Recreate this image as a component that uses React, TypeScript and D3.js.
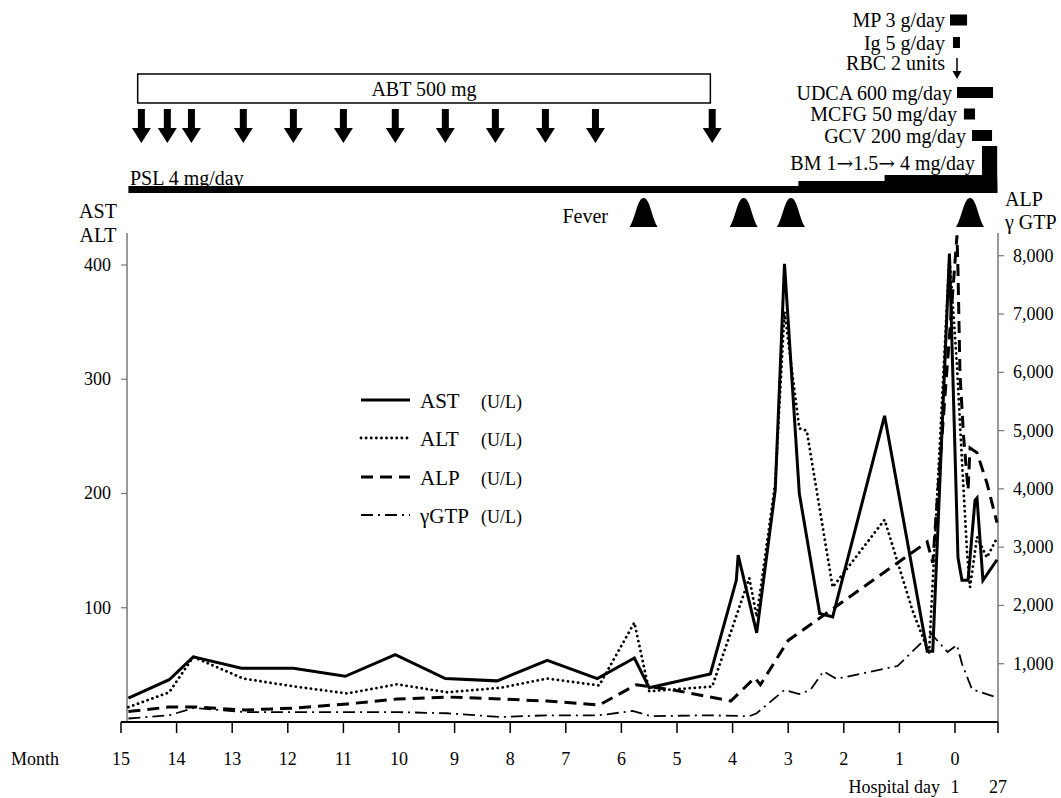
import React from "react";
import * as d3 from "d3";

// ---- Data (time t = days relative to hospital day 1; negative = before admission) ----
const monthTicks = [15, 14, 13, 12, 11, 10, 9, 8, 7, 6, 5, 4, 3, 2, 1, 0];
const leftTicks = [100, 200, 300, 400];
const rightTicks = [1000, 2000, 3000, 4000, 5000, 6000, 7000, 8000];

const astData: [number, number][] = [
  [-446, 21], [-424, 37], [-411, 57], [-385, 47], [-357, 47], [-329, 40], [-302, 59], [-275, 38],
  [-247, 36], [-220, 54], [-193, 38], [-173, 56], [-165, 30], [-132, 42], [-118, 124], [-117, 146],
  [-107, 78], [-97, 203], [-92, 401], [-84, 200], [-73, 95], [-66, 92], [-38, 268], [-15, 62],
  [-12, 62], [-3, 410], [1.8, 144], [4.2, 124], [7.9, 124], [12.1, 194], [13.3, 196], [16.9, 124],
  [25.4, 142],
];
const altData: [number, number][] = [
  [-446, 13], [-424, 26], [-411, 57], [-384, 38], [-356, 31], [-328, 25], [-301, 33], [-274, 26],
  [-245, 30], [-220, 38], [-192, 32], [-173, 87], [-165, 27], [-131, 31], [-111, 126], [-107, 92],
  [-97, 209], [-92, 359], [-84, 257], [-80, 255], [-66, 118], [-38, 177], [-23, 98], [-14, 60],
  [-3, 408], [1.2, 312], [4.2, 229], [7.3, 148], [9.1, 118], [13.3, 162], [19.3, 144], [25.4, 161],
];
const alpData: [number, number][] = [
  [-446, 180], [-424, 257], [-409, 257], [-383, 206], [-356, 240], [-328, 309], [-301, 394],
  [-274, 429], [-245, 394], [-220, 360], [-192, 291], [-172, 640], [-149, 531], [-121, 360],
  [-108, 760], [-105, 640], [-90, 1400], [-15, 3090], [-12, 2730], [-10, 3630], [1.2, 8350],
  [1.8, 7750], [3.0, 5980], [5.2, 4890], [7.9, 3980], [9.1, 4700], [13.3, 4620], [19.3, 4100],
  [25.4, 3420],
];
const ggtData: [number, number][] = [
  [-446, 60], [-424, 115], [-411, 240], [-383, 170], [-356, 170], [-328, 170], [-301, 170],
  [-274, 150], [-245, 85], [-220, 115], [-192, 115], [-174, 190], [-164, 100], [-133, 115],
  [-111, 100], [-107, 150], [-92, 550], [-84, 480], [-78, 550], [-71, 870], [-64, 740],
  [-31, 960], [-13, 1520], [-4, 1200], [1.2, 1320], [4.2, 1000], [10.3, 560], [25.4, 420],
];

const abtDoses = [-439, -425, -412, -384, -357, -330, -302, -275, -248, -221, -194, -131];
const abtPeriod = [-441, -132];
const feverDays = [-168, -114, -88.5, 9.1];
const pslPeriod = [-446, 25.5];
const bmSteps = [-84.5, -38, 16.3];

const treatLabels = ["MP 3 g/day", "Ig 5 g/day", "UDCA 600 mg/day", "MCFG 50 mg/day", "GCV 200 mg/day"];
const treatStart = [-2.7, -1.1, 1.2, 5.4, 10.3];
const treatEnd = [7.3, 3.0, 23, 12.1, 22.4];
const rbcDay = 1.2;

const legendNames = ["AST", "ALT", "ALP", "γGTP"];

const FONT = "'Liberation Serif', 'Times New Roman', serif";

export default function App() {
  const W = 1061, H = 798;
  const x = d3.scaleLinear().domain([-450, 0, 26]).range([121, 955, 998]);
  const yL = d3.scaleLinear().domain([0, 428]).range([722, 233]);
  const yR = d3.scaleLinear().domain([0, 8390]).range([722, 233]);

  const lineL = d3.line<[number, number]>().x((d) => x(d[0])).y((d) => yL(d[1]));
  const lineR = d3.line<[number, number]>().x((d) => x(d[0])).y((d) => yR(d[1]));

  const axL = 127, axR = 998, axB = 722;

  const styles = [
    { w: 3, dash: "none", cap: "butt" },
    { w: 2.8, dash: "0.1 5", cap: "round" },
    { w: 3, dash: "12 7", cap: "butt" },
    { w: 1.8, dash: "12 5 2 5", cap: "butt" },
  ];

  const legendY = [400, 438, 477, 515];

  const feverPath = (cx: number) => {
    const base = 227, top = 198, hw = 14;
    return `M${cx - hw},${base} C${cx - hw * 0.55},${base - 10} ${cx - hw * 0.45},${top} ${cx},${top} C${cx + hw * 0.45},${top} ${cx + hw * 0.55},${base - 10} ${cx + hw},${base} Z`;
  };

  const treatY = [20, 42.5, 92.5, 114, 135.5];
  const treatTextEnd = [945, 945, 952, 957, 966];
  const arrowFont = "'DejaVu Serif', serif";

  return (
    <svg width={W} height={H} style={{ position: "absolute", left: 0, top: 0, background: "#fff" }} fontFamily={FONT}>
      <rect x={0} y={0} width={W} height={H} fill="#fff" />

      {/* ABT box */}
      <rect x={x(abtPeriod[0])} y={74} width={x(abtPeriod[1]) - x(abtPeriod[0])} height={29} fill="#fff" stroke="#000" strokeWidth={1.5} />
      <text x={(x(abtPeriod[0]) + x(abtPeriod[1])) / 2} y={89} fontSize={20} textAnchor="middle" dominantBaseline="central">ABT 500 mg</text>

      {/* ABT dose arrows */}
      {abtDoses.map((t, i) => {
        const cx = x(t);
        return (
          <path key={i} d={`M${cx - 3.5},109 L${cx + 3.5},109 L${cx + 3.5},128 L${cx + 9.5},128 L${cx},143 L${cx - 9.5},128 L${cx - 3.5},128 Z`} fill="#000" />
        );
      })}

      {/* PSL + BM */}
      <text x={130} y={178} fontSize={20} dominantBaseline="central">PSL 4 mg/day</text>
      <rect x={x(pslPeriod[0])} y={186} width={x(pslPeriod[1]) - x(pslPeriod[0])} height={7} fill="#000" />
      {bmSteps.map((t, i) => {
        const tops = [181, 175, 146];
        return <rect key={i} x={x(t)} y={tops[i]} width={x(pslPeriod[1]) - x(t)} height={193 - tops[i]} fill="#000" />;
      })}
      <text x={975} y={163} fontSize={20} textAnchor="end" dominantBaseline="central">
        BM 1<tspan fontFamily={arrowFont} fontSize={20}>→</tspan>1.5<tspan fontFamily={arrowFont} fontSize={20}>→</tspan> 4 mg/day
      </text>

      {/* treatments */}
      {treatLabels.map((lab, i) => (
        <g key={lab}>
          <text x={treatTextEnd[i]} y={treatY[i]} fontSize={20} textAnchor="end" dominantBaseline="central">{lab}</text>
          <rect x={x(treatStart[i])} y={treatY[i] - 5.5} width={x(treatEnd[i]) - x(treatStart[i])} height={11} fill="#000" />
        </g>
      ))}
      <text x={945} y={63} fontSize={20} textAnchor="end" dominantBaseline="central">RBC 2 units</text>
      <line x1={x(rbcDay)} x2={x(rbcDay)} y1={58} y2={72} stroke="#000" strokeWidth={1.5} />
      <path d={`M${x(rbcDay) - 4.5},71 L${x(rbcDay) + 4.5},71 L${x(rbcDay)},79 Z`} fill="#000" />

      {/* Fever */}
      <text x={608} y={216} fontSize={20} textAnchor="end" dominantBaseline="central">Fever</text>
      {feverDays.map((t, i) => (
        <path key={i} d={feverPath(x(t))} fill="#000" />
      ))}

      {/* axis titles */}
      <text x={98} y={211} fontSize={20} textAnchor="middle" dominantBaseline="central">AST</text>
      <text x={98} y={235} fontSize={20} textAnchor="middle" dominantBaseline="central">ALT</text>
      <text x={1005} y={199} fontSize={20} dominantBaseline="central">ALP</text>
      <text x={1005} y={222} fontSize={20} dominantBaseline="central">γ GTP</text>

      {/* left axis */}
      <line x1={axL} x2={axL} y1={233} y2={axB} stroke="#777" strokeWidth={1.5} />
      {leftTicks.map((v) => (
        <g key={v}>
          <line x1={axL - 6} x2={axL} y1={yL(v)} y2={yL(v)} stroke="#777" strokeWidth={1.2} />
          <text x={111} y={yL(v)} fontSize={18} textAnchor="end" dominantBaseline="central">{v}</text>
        </g>
      ))}

      {/* right axis */}
      <line x1={axR} x2={axR} y1={233} y2={axB} stroke="#777" strokeWidth={1.5} />
      {rightTicks.map((v) => (
        <g key={v}>
          <line x1={axR} x2={axR + 6} y1={yR(v)} y2={yR(v)} stroke="#777" strokeWidth={1.2} />
          <text x={1013} y={yR(v)} fontSize={18} dominantBaseline="central">{d3.format(",")(v)}</text>
        </g>
      ))}

      {/* x axis */}
      <line x1={x(-450)} x2={x(26)} y1={axB} y2={axB} stroke="#000" strokeWidth={2} />
      {monthTicks.map((m) => (
        <g key={m}>
          <line x1={x(-30 * m)} x2={x(-30 * m)} y1={axB} y2={axB + 11} stroke="#000" strokeWidth={1.5} />
          <text x={x(-30 * m)} y={759} fontSize={18} textAnchor="middle" dominantBaseline="central">{m}</text>
        </g>
      ))}
      <line x1={x(26)} x2={x(26)} y1={axB} y2={axB + 11} stroke="#000" strokeWidth={1.5} />
      <text x={35} y={759} fontSize={18} textAnchor="middle" dominantBaseline="central">Month</text>
      <text x={940} y={787} fontSize={18} textAnchor="end" dominantBaseline="central">Hospital day</text>
      <text x={x(0)} y={787} fontSize={18} textAnchor="middle" dominantBaseline="central">1</text>
      <text x={x(26)} y={787} fontSize={18} textAnchor="middle" dominantBaseline="central">27</text>

      {/* series */}
      <path d={lineR(ggtData) || ""} fill="none" stroke="#000" strokeWidth={styles[3].w} strokeDasharray={styles[3].dash} />
      <path d={lineR(alpData) || ""} fill="none" stroke="#000" strokeWidth={styles[2].w} strokeDasharray={styles[2].dash} />
      <path d={lineL(altData) || ""} fill="none" stroke="#000" strokeWidth={styles[1].w} strokeDasharray={styles[1].dash} strokeLinecap="round" />
      <path d={lineL(astData) || ""} fill="none" stroke="#000" strokeWidth={styles[0].w} strokeLinejoin="miter" />

      {/* legend */}
      {legendNames.map((n, i) => (
        <g key={n}>
          <line x1={361} x2={410} y1={legendY[i]} y2={legendY[i]} stroke="#000" strokeWidth={styles[i].w}
            strokeDasharray={styles[i].dash} strokeLinecap={styles[i].cap as any} />
          <text x={420} y={legendY[i] + 1} fontSize={21} dominantBaseline="central">{n}</text>
          <text x={481} y={legendY[i] + 2} fontSize={18} dominantBaseline="central">(U/L)</text>
        </g>
      ))}
    </svg>
  );
}
